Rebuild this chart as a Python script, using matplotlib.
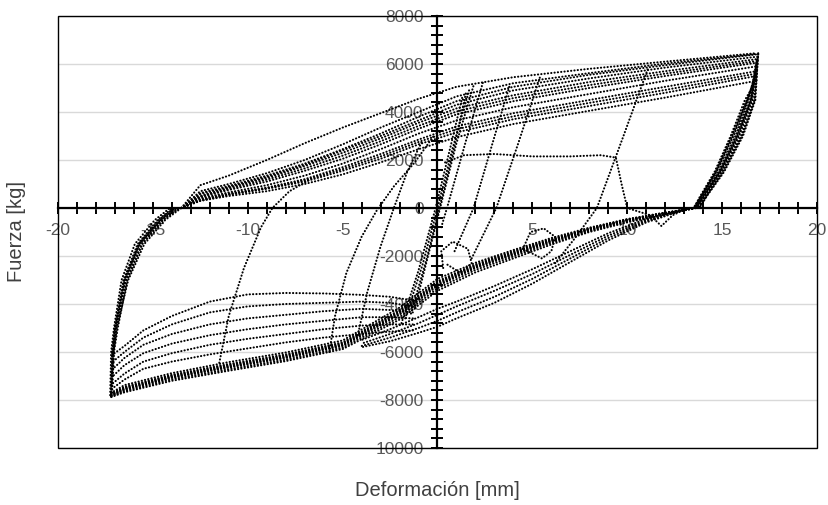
import matplotlib
matplotlib.use("Agg")
import matplotlib.pyplot as plt
from matplotlib.patches import Rectangle
from matplotlib.ticker import MultipleLocator, FuncFormatter

# Upper branches (loading toward +17 mm), one y-list per cycle
UP_X = [-13.5, -12.5, -11, -9, -7, -5, -3, -1, 1, 4, 8, 12, 16.8]
UP_Y = [
    [0, 950, 1350, 2000, 2700, 3350, 3950, 4550, 5050, 5450, 5800, 6100, 6450],
    [0, 700, 1000, 1450, 2000, 2650, 3350, 4000, 4650, 5200, 5620, 6020, 6420],
    [0, 620, 920, 1350, 1850, 2450, 3100, 3800, 4450, 5050, 5550, 5950, 6400],
    [0, 580, 880, 1300, 1800, 2400, 3000, 3650, 4300, 4900, 5400, 5850, 6300],
    [0, 500, 850, 1250, 1750, 2300, 2900, 3550, 4150, 4700, 5250, 5700, 6200],
    [0, 480, 800, 1180, 1650, 2180, 2780, 3420, 4020, 4580, 5120, 5600, 6120],
    [0, 450, 750, 1100, 1550, 2050, 2650, 3300, 3900, 4450, 5000, 5500, 6050],
    [0, 400, 650, 950, 1350, 1850, 2450, 3100, 3650, 4200, 4750, 5300, 5900],
    [0, 350, 600, 850, 1200, 1700, 2250, 2850, 3400, 3950, 4500, 5050, 5700],
    [0, 320, 570, 820, 1150, 1620, 2150, 2750, 3280, 3820, 4380, 4920, 5600],
    [0, 300, 550, 800, 1100, 1550, 2050, 2650, 3150, 3700, 4250, 4800, 5500],
    [0, 300, 500, 700, 1000, 1400, 1900, 2450, 2950, 3500, 4050, 4600, 5300],
]

# Unloading from the positive peak
POS_UNL_Y = [
    [6450, 4500, 3000, 1500, 500, 0],
    [6420, 4500, 3000, 1500, 500, 0],
    [6400, 4500, 3000, 1500, 500, 0],
    [6300, 4500, 3000, 1500, 500, 0],
    [6200, 4500, 3000, 1500, 500, 0],
    [6120, 4500, 3000, 1500, 500, 0],
    [6050, 4500, 3000, 1500, 500, 0],
    [5900, 4500, 3000, 1500, 500, 0],
    [5700, 4500, 3000, 1500, 500, 0],
    [5600, 4500, 3000, 1500, 500, 0],
    [5500, 4500, 3000, 1500, 500, 0],
    [5300, 4500, 3000, 1500, 500, 0],
]
POS_UNL_X = [
    [16.9, 16.75, 16.1, 15.1, 14.2, 13.8],
    [16.9, 16.72, 16.05, 15.05, 14.18, 13.78],
    [16.9, 16.7, 16.0, 15.0, 14.15, 13.75],
    [16.85, 16.6, 15.9, 14.95, 14.1, 13.7],
    [16.85, 16.55, 15.85, 14.9, 14.05, 13.65],
    [16.82, 16.52, 15.8, 14.88, 14.02, 13.62],
    [16.8, 16.5, 15.75, 14.85, 14.0, 13.6],
    [16.8, 16.4, 15.7, 14.8, 13.95, 13.6],
    [16.8, 16.35, 15.6, 14.7, 13.9, 13.55],
    [16.8, 16.32, 15.55, 14.68, 13.9, 13.52],
    [16.8, 16.3, 15.5, 14.65, 13.9, 13.5],
    [16.8, 16.2, 15.45, 14.6, 13.85, 13.5],
]

# Lower branches (loading toward -17 mm), dense band
LOW_X = [13.6, 12, 10, 8, 6, 4, 2, 0, -2, -5, -8, -11, -14, -16.5, -17.2]
LOW_Y = [
    [0, -190, -460, -820, -1250, -1750, -2280, -2950, -4150, -5520, -6020, -6420, -6880, -7380, -7700],
    [0, -200, -480, -850, -1300, -1800, -2350, -3050, -4250, -5600, -6100, -6500, -6950, -7450, -7750],
    [0, -205, -490, -865, -1325, -1840, -2390, -3100, -4300, -5640, -6140, -6540, -6985, -7485, -7780],
    [0, -210, -500, -880, -1350, -1880, -2430, -3150, -4350, -5680, -6180, -6580, -7020, -7520, -7800],
    [0, -220, -515, -900, -1375, -1915, -2465, -3200, -4400, -5715, -6215, -6615, -7050, -7550, -7815],
    [0, -230, -530, -920, -1400, -1950, -2500, -3250, -4450, -5750, -6250, -6650, -7080, -7580, -7830],
    [0, -250, -560, -960, -1450, -2020, -2580, -3350, -4550, -5820, -6320, -6720, -7140, -7630, -7860],
    [0, -270, -600, -1000, -1520, -2100, -2680, -3450, -4650, -5880, -6380, -6780, -7200, -7680, -7880],
]

# Lower branches with a lower path right of zero
LOW2_X = [13.3, 11, 9, 7, 5, 3, 1, 0, -1, -2.5, -4]
LOW2_Y = [
    [0, -450, -1050, -1800, -2550, -3250, -3900, -4200, -4550, -5050, -5500],
    [0, -500, -1150, -1950, -2750, -3450, -4100, -4450, -4800, -5250, -5650],
    [0, -550, -1250, -2100, -2950, -3700, -4350, -4700, -5000, -5400, -5750],
    [0, -600, -1350, -2250, -3150, -3950, -4600, -4950, -5200, -5550, -5800],
]

# Lower-left fan leaving the elastic line near -1.3 mm
FAN_X = [-1.3, -2.5, -4, -6, -8, -10, -12, -14, -15.5, -16.5, -17.1]
FAN_Y = [
    [-3850, -3700, -3620, -3560, -3540, -3600, -3900, -4500, -5100, -5750, -6100],
    [-4100, -3950, -3900, -3950, -4000, -4100, -4350, -4850, -5400, -6000, -6400],
    [-4350, -4250, -4200, -4300, -4450, -4600, -4850, -5250, -5700, -6250, -6700],
    [-4600, -4550, -4550, -4700, -4850, -5050, -5300, -5650, -6050, -6550, -7000],
    [-4850, -4850, -4900, -5050, -5250, -5450, -5700, -6050, -6400, -6900, -7300],
    [-5100, -5150, -5250, -5400, -5600, -5850, -6100, -6400, -6700, -7150, -7500],
]

# Unloading from the negative peak
NEG_UNL_X = [
    [-17.25, -17.2, -17.05, -16.65, -15.95, -14.9, -14.1],
    [-17.2, -17.15, -17.0, -16.55, -15.8, -14.75, -13.95],
    [-17.2, -17.12, -16.98, -16.5, -15.75, -14.68, -13.88],
    [-17.2, -17.1, -16.95, -16.45, -15.7, -14.6, -13.8],
    [-17.15, -17.05, -16.85, -16.35, -15.55, -14.45, -13.6],
    [-17.1, -17.0, -16.9, -16.3, -15.45, -14.35, -13.5],
    [-17.1, -17.05, -16.95, -16.4, -15.6, -14.5, -13.6],
    [-17.15, -17.1, -17.0, -16.5, -15.7, -14.6, -13.7],
]
NEG_UNL_Y = [
    [-7800, -6000, -5000, -3000, -1500, -500, 0],
    [-7850, -6000, -5000, -3000, -1500, -500, 0],
    [-7820, -6000, -5000, -3000, -1500, -500, 0],
    [-7800, -6000, -5000, -3000, -1500, -500, 0],
    [-7700, -6000, -5000, -3000, -1500, -500, 0],
    [-6100, -5600, -5000, -3000, -1500, -500, 0],
    [-6700, -5800, -5000, -3000, -1500, -500, 0],
    [-7300, -6000, -5000, -3000, -1500, -500, 0],
]

# Small-amplitude cycles and elastic lines
SMALL_X = [
    [-1.7, -0.8, 0, 0.8, 1.7],
    [-1.4, -0.6, 0.1, 0.9, 1.5],
    [-1.9, -1.0, -0.1, 0.7, 1.3],
    [-1.2, -0.5, 0.2, 1.0, 1.9],
    [0.2, 0.5, 1.5, 2.4],
    [0.9, 1.9, 2.9, 3.8],
    [1.8, 3.1, 4.3, 5.4],
    [6.2, 7.3, 8.4, 9.8, 11.1],
    [0.4, 1.4, 3, 5, 7, 8.6, 9.4, 9.7, 10.0, 11.2, 11.8, 12.4, 13.2],
    [-11.5, -11.0, -10.2, -9.3, -8.7, -7.8, -6.8],
    [-5.7, -5.4, -4.8, -4.0, -3.2, -2.3, -1.2, -0.2],
    [-4.2, -3.7, -3.0, -2.3, -1.6, -0.8],
    [0.3, 0.2, 0.8, 1.6, 1.8, 1.2, 0.4],
    [4.5, 4.9, 5.6, 6.2, 6.0, 5.5, 4.5],
]
SMALL_Y = [
    [-4600, -2400, 0, 2500, 5000],
    [-4400, -2200, 0, 2600, 4800],
    [-4800, -2600, 0, 2600, 4600],
    [-4200, -2000, 200, 2700, 5100],
    [-800, 0, 2800, 5250],
    [-1800, 0, 2700, 5100],
    [-2100, 0, 2800, 5450],
    [-2300, -1200, 0, 3000, 5830],
    [1900, 2200, 2250, 2150, 2150, 2200, 2100, 1000, 0, -300, -750, -300, 0],
    [-6450, -4500, -2500, -800, 0, 700, 1150],
    [-6000, -4500, -2700, -1200, -100, 900, 1900, 3000],
    [-5300, -3500, -1600, 0, 1500, 2800],
    [-2500, -1800, -1400, -1700, -2300, -2700, -2300],
    [-1700, -1000, -850, -1200, -1800, -2100, -1700],
]

DOT = dict(color="black", lw=1.5, linestyle=(0, (0.1, 1.5)),
           dash_capstyle="round", zorder=3)

fig = plt.figure(figsize=(8.29, 5.05), dpi=100)
ax = fig.add_axes([58 / 829, 57 / 505, 759 / 829, 432 / 505])

for ys in UP_Y:
    ax.plot(UP_X, ys, **DOT)
for xs, ys in zip(POS_UNL_X, POS_UNL_Y):
    ax.plot(xs, ys, **DOT)
for ys in LOW_Y:
    ax.plot(LOW_X, ys, **DOT)
for ys in LOW2_Y:
    ax.plot(LOW2_X, ys, **DOT)
for ys in FAN_Y:
    ax.plot(FAN_X, ys, **DOT)
for xs, ys in zip(NEG_UNL_X, NEG_UNL_Y):
    ax.plot(xs, ys, **DOT)
for xs, ys in zip(SMALL_X, SMALL_Y):
    ax.plot(xs, ys, **DOT)

ax.set_xlim(-20, 20)
ax.set_ylim(-10000, 8000)

# axes crossing at the origin
for side in ["top", "right"]:
    ax.spines[side].set_visible(False)
ax.spines["left"].set_position(("data", 0))
ax.spines["bottom"].set_position(("data", 0))
for side in ["left", "bottom"]:
    ax.spines[side].set_linewidth(1.6)
    ax.spines[side].set_zorder(6)
ax.add_patch(Rectangle((0, 0), 1, 1, transform=ax.transAxes, fill=False,
                       ec="black", lw=1.0, clip_on=False, zorder=5))

ax.xaxis.set_major_locator(MultipleLocator(5))
ax.xaxis.set_minor_locator(MultipleLocator(1))
ax.yaxis.set_major_locator(MultipleLocator(2000))
ax.yaxis.set_minor_locator(MultipleLocator(400))
ax.tick_params(which="both", direction="inout", length=8, width=1.4,
               color="black", labelcolor="#595959", labelsize=12.5)
ax.tick_params(axis="x", pad=7)
ax.tick_params(axis="y", pad=6)

ax.xaxis.set_major_formatter(FuncFormatter(lambda v, p: "" if v == 0 else f"{v:g}"))
ax.yaxis.set_major_formatter(FuncFormatter(lambda v, p: "10000" if v == -10000 else f"{v:g}"))
for lab in ax.get_xticklabels() + ax.get_yticklabels():
    lab.set_family("Liberation Sans")

ax.grid(axis="y", which="major", color="#d9d9d9", lw=1.0, zorder=0)
ax.set_axisbelow(True)

fig.text(437 / 829, 1 - 490 / 505, "Deformación [mm]", ha="center", va="center",
         fontsize=14.5, color="#404040", family="Liberation Sans")
fig.text(17 / 829, 1 - 232 / 505, "Fuerza [kg]", ha="center", va="center",
         rotation=90, fontsize=14.5, color="#404040", family="Liberation Sans")

fig.savefig("out.png", dpi=100)
